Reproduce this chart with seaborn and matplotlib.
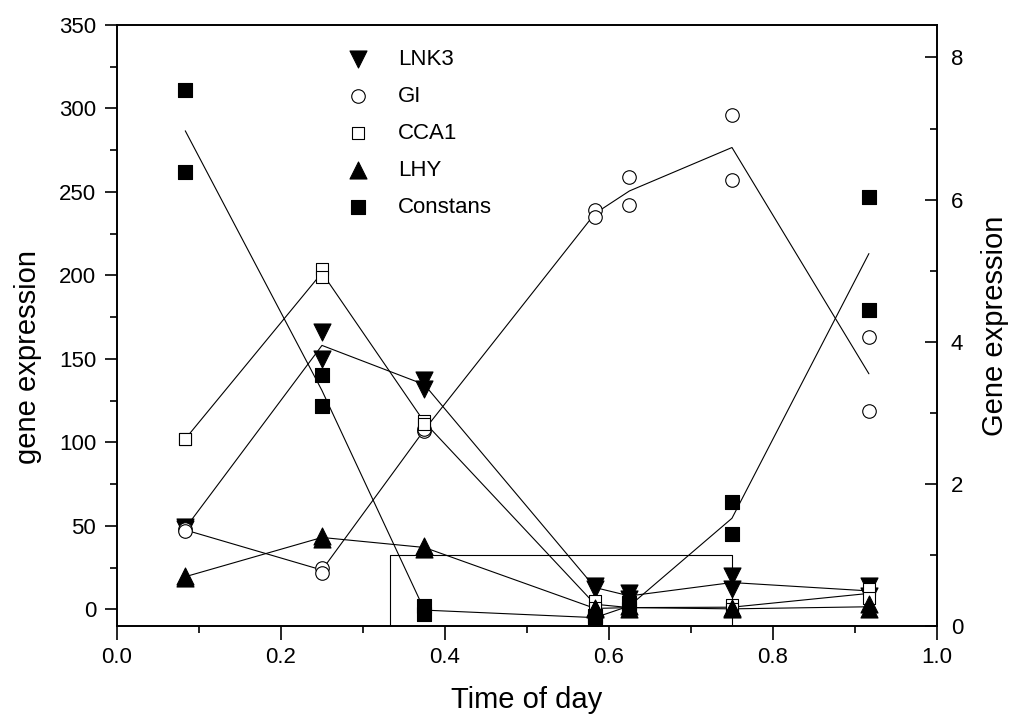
import matplotlib
matplotlib.use("Agg")
import matplotlib.pyplot as plt
import seaborn as sns
import pandas as pd

# time of day (fraction of 24 h) for each sampling point
time_of_day = [0.0833, 0.25, 0.375, 0.583, 0.625, 0.75, 0.917]

# two replicates per gene
lnk3_rep1 = [49, 166, 137, 14, 10, 20, 14]
lnk3_rep2 = [48, 150, 132, 12, 6, 12, 8]
gi_rep1 = [48, 25, 107, 239, 259, 296, 163]
gi_rep2 = [47, 22, 108, 235, 242, 257, 119]
cca1_rep1 = [102, 204, 113, 5, 2, 2.5, 12]
cca1_rep2 = [102, 199, 111, 1, 0, 0, 7]
lhy_rep1 = [20, 44, 38, 1, 2, 0.5, 3]
lhy_rep2 = [19, 42, 36, 0, 0, 0, 0]
constans_rep1 = [311, 140, 2, -4, 4, 64, 247]
constans_rep2 = [262, 122, -3, -6, 0, 45, 179]

genes = ["LNK3", "GI", "CCA1", "LHY", "Constans"]
reps = {
    "LNK3": (lnk3_rep1, lnk3_rep2),
    "GI": (gi_rep1, gi_rep2),
    "CCA1": (cca1_rep1, cca1_rep2),
    "LHY": (lhy_rep1, lhy_rep2),
    "Constans": (constans_rep1, constans_rep2),
}

# light period box (right axis)
light_start = 8 / 24
light_end = 18 / 24
light_level = 1

rows = []
for g in genes:
    for r in reps[g]:
        for t, v in zip(time_of_day, r):
            rows.append({"gene": g, "time": t, "value": v})
df = pd.DataFrame(rows)

sns.set_style("ticks")
plt.rcParams["font.family"] = ["Liberation Sans", "DejaVu Sans"]
plt.rcParams["text.color"] = "black"
plt.rcParams["axes.labelcolor"] = "black"
plt.rcParams["xtick.color"] = "black"
plt.rcParams["ytick.color"] = "black"

fig = plt.figure(figsize=(10.1, 7.22), dpi=100)
ax = fig.add_axes([0.1158, 0.1330, 0.8119, 0.8327])

# marker style per gene: marker, size, face
styles = {
    "LNK3": ("v", 150, "black"),
    "GI": ("o", 95, "white"),
    "CCA1": ("s", 85, "white"),
    "LHY": ("^", 150, "black"),
    "Constans": ("s", 100, "black"),
}

for g in genes:
    sub = df[df.gene == g]
    sns.lineplot(data=sub, x="time", y="value", estimator="mean", errorbar=None,
                 color="black", linewidth=0.8, ax=ax, legend=False, zorder=2)
for g in genes:
    sub = df[df.gene == g]
    m, s, fc = styles[g]
    sns.scatterplot(data=sub, x="time", y="value", marker=m, s=s, color=fc,
                    edgecolor="black", linewidth=0.8, ax=ax, label=g, zorder=3)

ax.set_xlim(0, 1.0)
ax.set_ylim(-10, 350)
ax.set_xticks([0, 0.2, 0.4, 0.6, 0.8, 1.0])
ax.set_xticks([0.1, 0.3, 0.5, 0.7, 0.9], minor=True)
ax.set_yticks(range(0, 351, 50))
ax.set_yticks(range(25, 351, 50), minor=True)
ax.set_xticklabels(["0.0", "0.2", "0.4", "0.6", "0.8", "1.0"])
ax.set_xlabel("Time of day", fontsize=21, labelpad=13)
ax.set_ylabel("gene expression", fontsize=21)
ax.yaxis.set_label_coords(-0.0915, 0.448)
ax.tick_params(axis="x", which="major", direction="out", length=10, width=1.2,
               labelsize=16, pad=5, top=False)
ax.tick_params(axis="x", which="minor", direction="out", length=5, width=1.2, top=False)
ax.tick_params(axis="y", which="major", direction="out", length=9, width=1.2,
               labelsize=16, pad=6, right=False)
ax.tick_params(axis="y", which="minor", direction="out", length=4.8, width=1.2, right=False)
for sp in ax.spines.values():
    sp.set_linewidth(1.2)
    sp.set_color("black")

ax.legend(loc="upper left", bbox_to_anchor=(0.28, 0.96), frameon=False,
          fontsize=16, handlelength=1.0, handletextpad=1.3, labelspacing=0.72,
          borderpad=0, borderaxespad=0)

ax2 = ax.twinx()
ax2.plot([light_start, light_start, light_end, light_end],
         [0, light_level, light_level, 0], color="black", linewidth=0.8, zorder=1)
ax2.set_ylim(0, 8.46)
ax2.set_yticks([0, 2, 4, 6, 8])
ax2.set_yticks([1, 3, 5, 7], minor=True)
ax2.set_ylabel("Gene expression", fontsize=21, labelpad=13)
ax2.tick_params(axis="y", which="major", direction="in", length=9, width=1.2,
                labelsize=16, pad=10)
ax2.tick_params(axis="y", which="minor", direction="in", length=4.8, width=1.2)
for sp in ax2.spines.values():
    sp.set_linewidth(1.2)
    sp.set_color("black")
ax.set_zorder(ax2.get_zorder() + 1)
ax.patch.set_visible(False)

fig.savefig("out.png", dpi=100)
